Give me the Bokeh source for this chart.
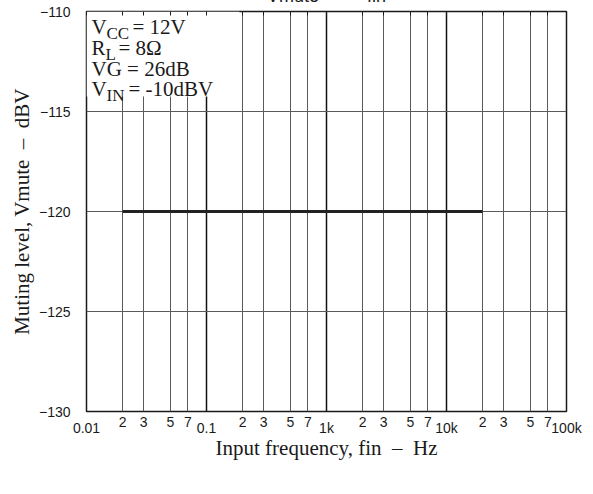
from bokeh.plotting import figure
from bokeh.models import (FixedTicker, LogAxis, Label, Range1d, BoxAnnotation)
from bokeh.embed import file_html
from bokeh.resources import INLINE

# ---- data ----
freq = [20, 20000]
vmute = [-120, -120]

major_ticks = [10, 100, 1000, 10000, 100000]
major_labels = ["0.01", "0.1", "1k", "10k", "100k"]
minor_ticks = [20, 30, 50, 70, 200, 300, 500, 700, 2000, 3000, 5000, 7000,
               20000, 30000, 50000, 70000]
minor_labels = ["2", "3", "5", "7"] * 4
y_ticks = [-130, -125, -120, -115, -110]
y_labels = ["\u2212130", "\u2212125", "\u2212120", "\u2212115", "\u2212110"]

SERIF = "Liberation Serif"
SANS = "Liberation Sans"
INK = "#1a1a1a"

HIDDEN_TOP = 29  # part of the canvas pushed above the page edge

p = figure(width=585, height=486 + HIDDEN_TOP, x_axis_type="log",
           x_range=Range1d(10, 100000), y_range=Range1d(-130, -110),
           output_backend="svg", toolbar_location=None,
           min_border_left=86, min_border_right=19,
           min_border_top=11 + HIDDEN_TOP, min_border_bottom=75,
           background_fill_color="white", border_fill_color="white")
p.styles = {"margin-top": f"-{HIDDEN_TOP}px"}
p.outline_line_color = INK
p.outline_line_width = 1.5

# x axis: all ticks labelled; decade labels pushed slightly lower
all_ticks = sorted(major_ticks + minor_ticks)
overrides = dict(zip(minor_ticks, minor_labels))
overrides.update({t: "\n" + s for t, s in zip(major_ticks, major_labels)})

xt = FixedTicker(ticks=major_ticks, minor_ticks=minor_ticks)
p.xaxis.ticker = FixedTicker(ticks=all_ticks)
p.xgrid.ticker = xt
p.xgrid.grid_line_color = "#111111"
p.xgrid.grid_line_width = 1.5
p.xgrid.minor_grid_line_color = "#5a5a5a"
p.xgrid.minor_grid_line_width = 1

yt = FixedTicker(ticks=y_ticks)
p.yaxis.ticker = yt
p.ygrid.ticker = yt
p.ygrid.grid_line_color = "#5a5a5a"
p.ygrid.grid_line_width = 1

for ax in (p.xaxis[0], p.yaxis[0]):
    ax.axis_line_color = None
    ax.major_tick_out = 0
    ax.major_tick_in = 0
    ax.minor_tick_out = 0
    ax.minor_tick_in = 0
    ax.major_label_text_font = SANS
    ax.major_label_text_font_size = "14px"
    ax.major_label_text_color = INK
    ax.axis_label_text_font = SERIF
    ax.axis_label_text_font_size = "21px"
    ax.axis_label_text_font_style = "normal"
    ax.axis_label_text_color = INK

p.xaxis.major_label_overrides = overrides
p.xaxis.major_label_text_line_height = 0.43
p.xaxis.major_label_standoff = 2
p.xaxis.axis_label = "Input frequency, fin\u00a0 \u2013\u00a0 Hz"
p.xaxis.axis_label_standoff = -3

p.yaxis.major_label_overrides = dict(zip(y_ticks, y_labels))
p.yaxis.major_label_standoff = 16
p.yaxis.axis_label = "Muting level, Vmute\u00a0 \u2013\u00a0 dBV"
p.yaxis.axis_label_standoff = 2

# top axis: inward ticks only, its axis label is the (mostly cut off) title
top = LogAxis(ticker=FixedTicker(ticks=major_ticks, minor_ticks=minor_ticks),
              axis_line_color=None, major_tick_in=4, minor_tick_in=4,
              major_tick_out=0, minor_tick_out=0,
              major_tick_line_color=INK, minor_tick_line_color=INK,
              major_label_text_font_size="1px", major_label_standoff=0,
              major_label_text_color=None,
              axis_label="Vmute\u00a0\u00a0 \u2014\u00a0\u00a0 fin",
              axis_label_text_font=SANS, axis_label_text_font_size="18px",
              axis_label_text_font_style="normal", axis_label_text_color=INK,
              axis_label_standoff=6)
p.add_layout(top, "above")

# white conditions box hiding the grid
box = BoxAnnotation(left=10, right=188, top=-110, bottom=-114.25,
                    fill_color="white", fill_alpha=1.0, line_color=None,
                    level="underlay")
p.add_layout(box)

# data line
p.line(freq, vmute, line_width=3, line_color="#222222")

# conditions text
def lab(text, y, dx, size="21px"):
    p.add_layout(Label(x=10, y=y, x_offset=dx, text=text, text_font=SERIF,
                       text_font_size=size, text_color=INK,
                       text_baseline="alphabetic", text_align="left"))

lab("V", -110.75, 5)
lab("CC", -111.10, 20, "17px")
lab("= 12V", -110.75, 46)
lab("R", -111.80, 5)
lab("L", -112.15, 19, "17px")
lab("= 8\u03a9", -111.80, 32)
lab("VG = 26dB", -112.85, 5)
lab("V", -113.85, 5)
lab("IN", -114.20, 20, "17px")
lab("= -10dBV", -113.85, 42)

open("out.html", "w").write(file_html(p, INLINE))
